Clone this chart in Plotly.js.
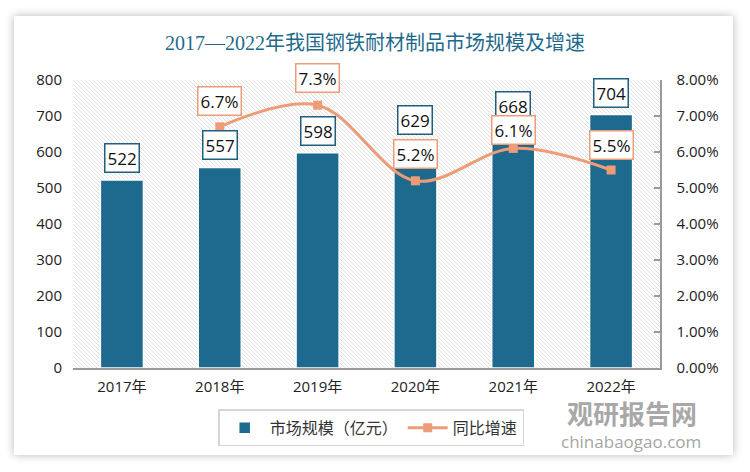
<!DOCTYPE html>
<html>
<head>
<meta charset="utf-8">
<script src="https://cdn.plot.ly/plotly-3.0.1.min.js"></script>
<style>
  html, body { margin: 0; padding: 0; background: #ffffff; }
  #card { position: absolute; left: 14px; top: 16px; width: 719px; height: 439px; background: #fff; box-shadow: 0 0 9px rgba(0,0,0,0.28); }
  #chart { position: absolute; left: 0; top: 0; width: 750px; height: 472px; }
</style>
</head>
<body>
<div id="card"></div>
<div id="chart"></div>
<script>
// ---- data ----
const categories = ['2017年', '2018年', '2019年', '2020年', '2021年', '2022年'];
const marketSize = [522, 557, 598, 629, 668, 704];          // 市场规模（亿元）
const growthRate = [null, 6.7, 7.3, 5.2, 6.1, 5.5];          // 同比增速 (%)
const seriesNames = ['市场规模（亿元）', '同比增速'];
const titleText = '2017—2022年我国钢铁耐材制品市场规模及增速';

// ---- style ----
const barColor = '#1d6a8e';
const lineColor = '#ee9c77';
const fontFam = '"Open Sans", "Noto Sans CJK SC", sans-serif';
const lineLabelShift = [0, 11, 12, 12, 3, 10];

const hatchSvg = '<svg xmlns="http://www.w3.org/2000/svg" width="587" height="288">' +
  '<defs><pattern id="p" width="4" height="4" patternUnits="userSpaceOnUse">' +
  '<path d="M-1,-1 L5,5 M-1,3 L1,5 M3,-1 L5,1" stroke="#dcdcdc" stroke-width="0.9"/></pattern></defs>' +
  '<rect width="587" height="288" fill="url(#p)"/></svg>';
const hatchUri = 'data:image/svg+xml;base64,' + btoa(hatchSvg);

const traces = [
  {
    type: 'bar', name: seriesNames[0], x: categories, y: marketSize,
    width: 0.44,
    marker: { color: barColor, line: { color: '#ffffff', width: 1.5 } },
    hoverinfo: 'skip', yaxis: 'y'
  },
  {
    type: 'scatter', mode: 'lines+markers', name: seriesNames[1],
    x: categories, y: growthRate, yaxis: 'y2',
    line: { color: lineColor, width: 3, shape: 'spline', smoothing: 1 },
    marker: { symbol: 'square', size: 9, color: lineColor },
    connectgaps: false, hoverinfo: 'skip'
  }
];

const annotations = [];
categories.forEach((c, i) => {
  annotations.push({
    x: c, y: marketSize[i], xref: 'x', yref: 'y',
    text: String(marketSize[i]), showarrow: false,
    yanchor: 'bottom', yshift: 7,
    font: { family: fontFam, size: 17, color: '#111' },
    bgcolor: '#ffffff', bordercolor: '#1f5f80', borderwidth: 1.5, borderpad: 2
  });
  if (growthRate[i] !== null) {
    annotations.push({
      x: c, y: growthRate[i], xref: 'x', yref: 'y2',
      text: growthRate[i].toFixed(1) + '%', showarrow: false,
      yanchor: 'bottom', yshift: lineLabelShift[i],
      font: { family: fontFam, size: 17, color: '#111' },
      bgcolor: '#ffffff', bordercolor: lineColor, borderwidth: 1.5, borderpad: 2
    });
  }
});
// watermark
annotations.push({
  xref: 'paper', yref: 'paper', x: (632 - 73) / 587, y: (368 - 412) / 288,
  xanchor: 'center', yanchor: 'middle',
  text: '<b>观研报告网</b>', showarrow: false,
  font: { family: '"Noto Sans CJK SC", sans-serif', size: 26, color: 'rgba(140,140,140,0.75)' }
});
annotations.push({
  xref: 'paper', yref: 'paper', x: (631 - 73) / 587, y: (368 - 441) / 288,
  xanchor: 'center', yanchor: 'middle',
  text: 'chinabaogao.com', showarrow: false,
  font: { family: '"Open Sans", sans-serif', size: 17, color: 'rgba(140,140,140,0.8)' }
});

const layout = {
  width: 750, height: 472,
  margin: { l: 73, r: 90, t: 80, b: 104 },
  paper_bgcolor: 'rgba(0,0,0,0)',
  plot_bgcolor: 'rgba(0,0,0,0)',
  title: {
    text: titleText, x: 0.5, xanchor: 'center', y: 0.909, yanchor: 'middle', yref: 'container',
    font: { family: '"Liberation Serif", "Noto Sans CJK SC", serif', size: 20, color: '#1f6a8c' }
  },
  images: [{
    source: hatchUri, xref: 'paper', yref: 'paper', x: 0, y: 1, sizex: 1, sizey: 1,
    xanchor: 'left', yanchor: 'top', sizing: 'stretch', layer: 'below'
  }],
  xaxis: {
    type: 'category', showgrid: false, zeroline: false,
    showline: true, linecolor: '#9a9a9a', linewidth: 1.5,
    ticks: '', tickfont: { family: fontFam, size: 15, color: '#222' },
    ticklabelstandoff: 4
  },
  yaxis: {
    range: [0, 800], dtick: 100, showgrid: false, zeroline: false, showline: false,
    ticks: '', tickfont: { family: fontFam, size: 15, color: '#222' }, ticklabelstandoff: 10
  },
  yaxis2: {
    overlaying: 'y', side: 'right', range: [0, 8], dtick: 1,
    tickformat: '.2f', ticksuffix: '%',
    showgrid: false, zeroline: false, showline: true, linecolor: '#9a9a9a', linewidth: 1.5,
    ticks: 'inside', ticklen: 6, tickcolor: '#9a9a9a', tickwidth: 1.5,
    tickfont: { family: fontFam, size: 15, color: '#222' }, ticklabelstandoff: 12
  },
  showlegend: true,
  legend: {
    orientation: 'h', x: 0.508, xanchor: 'center', y: -0.208, yanchor: 'middle',
    bordercolor: '#d6d6d6', borderwidth: 1.5, bgcolor: '#ffffff',
    font: { family: fontFam, size: 16, color: '#333' },
    itemwidth: 40, traceorder: 'normal'
  },
  bargap: 0.56,
  annotations: annotations
};

Plotly.newPlot('chart', traces, layout, { displayModeBar: false, staticPlot: true });
</script>
</body>
</html>
